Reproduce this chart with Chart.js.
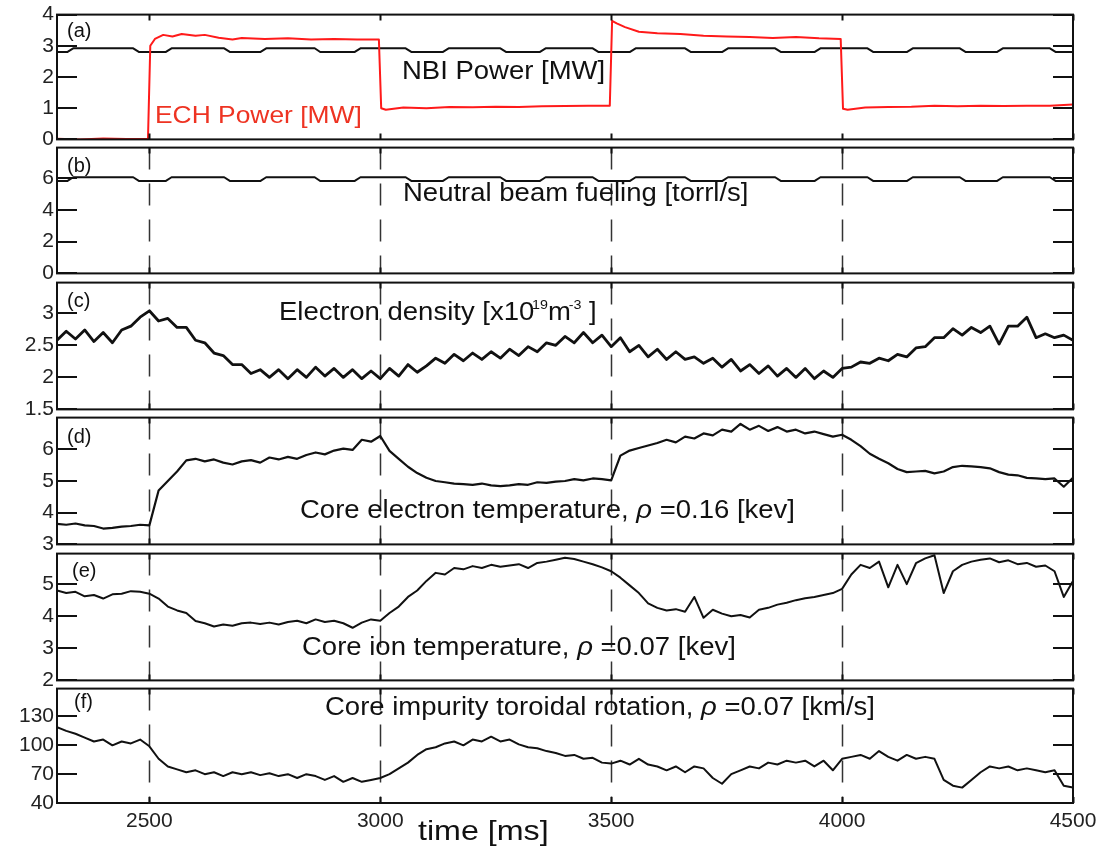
<!DOCTYPE html>
<html>
<head>
<meta charset="utf-8">
<script src="https://cdn.jsdelivr.net/npm/chart.js@4.4.1/dist/chart.umd.min.js"></script>
<style>
  body { margin: 0; background: #fff; }
  #wrap { position: relative; width: 1109px; height: 846px; overflow: hidden;
          font-family: 'Liberation Sans', Arial, Helvetica, sans-serif; color: #111; }
  canvas { position: absolute; left: 0; }
  .lbl { position: absolute; white-space: nowrap; line-height: 1; font-size: 25px;
         transform: scaleX(1.1); transform-origin: 0 0; }
  .tag { position: absolute; line-height: 1; font-size: 20px; }
  .lbl sup { font-size: 13px; vertical-align: 0; position: relative; top: -11px; margin-left: -2px; }
</style>
</head>
<body>
<div id="wrap">
  <div class="tag" style="left:67px;top:20px">(a)</div>
  <div class="tag" style="left:67px;top:155px">(b)</div>
  <div class="tag" style="left:67px;top:290px">(c)</div>
  <div class="tag" style="left:67px;top:426px">(d)</div>
  <div class="tag" style="left:72px;top:560px">(e)</div>
  <div class="tag" style="left:74px;top:691px">(f)</div>

  <div class="lbl" style="left:402px;top:58px">NBI Power [MW]</div>
  <div class="lbl" style="left:155px;top:103px;color:#ee3322;font-size:24px">ECH Power [MW]</div>
  <div class="lbl" style="left:403px;top:180px">Neutral beam fueling [torrl/s]</div>
  <div class="lbl" style="left:279px;top:299px">Electron density [x10<sup>19</sup>m<sup>-3</sup> ]</div>
  <div class="lbl" style="left:300px;top:497px">Core electron temperature, <i>&rho;</i> =0.16 [kev]</div>
  <div class="lbl" style="left:302px;top:634px">Core ion temperature, <i>&rho;</i> =0.07 [kev]</div>
  <div class="lbl" style="left:325px;top:694px">Core impurity toroidal rotation, <i>&rho;</i> =0.07 [km/s]</div>
  <div class="lbl" style="left:418px;top:817px;font-size:28px;transform:scaleX(1.15)">time [ms]</div>
</div>
<script>
// shared time base for the diagnostic traces (ms)
const timeMs = [
  2300, 2320, 2340, 2360, 2380, 2400, 2420, 2440, 2460, 2480,
  2500, 2520, 2540, 2560, 2580, 2600, 2620, 2640, 2660, 2680,
  2700, 2720, 2740, 2760, 2780, 2800, 2820, 2840, 2860, 2880,
  2900, 2920, 2940, 2960, 2980, 3000, 3020, 3040, 3060, 3080,
  3100, 3120, 3140, 3160, 3180, 3200, 3220, 3240, 3260, 3280,
  3300, 3320, 3340, 3360, 3380, 3400, 3420, 3440, 3460, 3480,
  3500, 3520, 3540, 3560, 3580, 3600, 3620, 3640, 3660, 3680,
  3700, 3720, 3740, 3760, 3780, 3800, 3820, 3840, 3860, 3880,
  3900, 3920, 3940, 3960, 3980, 4000, 4020, 4040, 4060, 4080,
  4100, 4120, 4140, 4160, 4180, 4200, 4220, 4240, 4260, 4280,
  4300, 4320, 4340, 4360, 4380, 4400, 4420, 4440, 4460, 4480,
  4500
];

// (a) ECH power, MW
const timeEch = [
  2300, 2350, 2400, 2450, 2497, 2502, 2512, 2530, 2550, 2570,
  2600, 2620, 2650, 2680, 2700, 2750, 2800, 2850, 2900, 2950,
  2997, 3002, 3012, 3050, 3100, 3150, 3200, 3250, 3300, 3350,
  3400, 3450, 3497, 3502, 3512, 3530, 3560, 3600, 3650, 3700,
  3750, 3800, 3850, 3900, 3950, 3997, 4002, 4012, 4050, 4100,
  4150, 4200, 4250, 4300, 4350, 4400, 4450, 4500
];
const echPower = [
  0.02, 0.00, 0.03, 0.01, 0.02, 3.00, 3.22, 3.35, 3.30, 3.38,
  3.32, 3.35, 3.26, 3.20, 3.25, 3.22, 3.24, 3.20, 3.22, 3.20,
  3.20, 1.00, 0.95, 1.02, 1.00, 1.04, 1.03, 1.05, 1.04, 1.06,
  1.07, 1.08, 1.08, 3.80, 3.72, 3.60, 3.45, 3.40, 3.38, 3.32,
  3.30, 3.28, 3.25, 3.28, 3.24, 3.22, 0.98, 0.95, 1.02, 1.04,
  1.05, 1.08, 1.06, 1.08, 1.07, 1.08, 1.08, 1.12
];

// (a) NBI power and (b) beam fueling share the beam modulation times
const timeBeam = [
  2300, 2322, 2335, 2465, 2478, 2535, 2548, 2662, 2675, 2740,
  2753, 2858, 2870, 2944, 2957, 3055, 3068, 3135, 3148, 3260,
  3273, 3345, 3358, 3460, 3473, 3540, 3553, 3660, 3673, 3740,
  3753, 3855, 3868, 3940, 3953, 4055, 4068, 4140, 4153, 4255,
  4268, 4335, 4348, 4450, 4463, 4500
];
const nbiPower = [
  2.80, 2.80, 2.92, 2.92, 2.80, 2.80, 2.92, 2.92, 2.80, 2.80,
  2.92, 2.92, 2.80, 2.80, 2.92, 2.92, 2.80, 2.80, 2.92, 2.92,
  2.80, 2.80, 2.92, 2.92, 2.80, 2.80, 2.92, 2.92, 2.80, 2.80,
  2.92, 2.92, 2.80, 2.80, 2.92, 2.92, 2.80, 2.80, 2.92, 2.92,
  2.80, 2.80, 2.92, 2.92, 2.80, 2.80
];
const beamFueling = [
  5.80, 5.80, 6.04, 6.04, 5.80, 5.80, 6.04, 6.04, 5.80, 5.80,
  6.04, 6.04, 5.80, 5.80, 6.04, 6.04, 5.80, 5.80, 6.04, 6.04,
  5.80, 5.80, 6.04, 6.04, 5.80, 5.80, 6.04, 6.04, 5.80, 5.80,
  6.04, 6.04, 5.80, 5.80, 6.04, 6.04, 5.80, 5.80, 6.04, 6.04,
  5.80, 5.80, 6.04, 6.04, 5.80, 5.80
];

// (c) electron density, 1e19 m^-3
const electronDensity = [
  2.58, 2.72, 2.60, 2.74, 2.56, 2.70, 2.54, 2.74, 2.80, 2.94,
  3.04, 2.88, 2.92, 2.78, 2.78, 2.58, 2.54, 2.38, 2.34, 2.20,
  2.20, 2.06, 2.12, 2.00, 2.12, 1.98, 2.12, 2.00, 2.16, 2.02,
  2.14, 2.00, 2.12, 1.98, 2.10, 1.98, 2.14, 2.02, 2.20, 2.08,
  2.18, 2.30, 2.22, 2.36, 2.26, 2.38, 2.28, 2.40, 2.30, 2.44,
  2.34, 2.48, 2.40, 2.54, 2.50, 2.64, 2.54, 2.70, 2.54, 2.66,
  2.48, 2.62, 2.40, 2.50, 2.32, 2.44, 2.28, 2.40, 2.28, 2.32,
  2.22, 2.30, 2.16, 2.28, 2.10, 2.20, 2.06, 2.18, 2.02, 2.14,
  2.00, 2.14, 1.98, 2.10, 2.00, 2.14, 2.16, 2.24, 2.22, 2.30,
  2.26, 2.36, 2.32, 2.46, 2.48, 2.62, 2.62, 2.76, 2.66, 2.78,
  2.70, 2.80, 2.52, 2.80, 2.80, 2.94, 2.62, 2.68, 2.62, 2.66,
  2.58
];

// (d) core electron temperature, keV
const electronTemp = [
  3.65, 3.62, 3.66, 3.60, 3.58, 3.50, 3.52, 3.56, 3.58, 3.62,
  3.60, 4.70, 5.00, 5.30, 5.65, 5.70, 5.62, 5.68, 5.58, 5.52,
  5.62, 5.66, 5.58, 5.74, 5.68, 5.76, 5.70, 5.82, 5.90, 5.84,
  5.96, 6.02, 5.98, 6.30, 6.24, 6.42, 5.95, 5.70, 5.45, 5.25,
  5.10, 5.00, 4.96, 4.92, 4.90, 4.88, 4.92, 4.86, 4.84, 4.86,
  4.90, 4.88, 4.96, 4.94, 4.98, 5.00, 5.06, 5.02, 5.08, 5.06,
  5.02, 5.80, 5.96, 6.04, 6.12, 6.20, 6.30, 6.22, 6.40, 6.34,
  6.50, 6.44, 6.62, 6.56, 6.80, 6.62, 6.74, 6.58, 6.70, 6.56,
  6.62, 6.50, 6.56, 6.48, 6.40, 6.46, 6.30, 6.10, 5.86, 5.70,
  5.56, 5.38, 5.28, 5.30, 5.32, 5.24, 5.30, 5.44, 5.48, 5.46,
  5.44, 5.40, 5.28, 5.20, 5.18, 5.10, 5.08, 5.06, 5.08, 4.82,
  5.10
];

// (e) core ion temperature, keV
const ionTemp = [
  4.80, 4.72, 4.76, 4.62, 4.66, 4.55, 4.68, 4.70, 4.78, 4.76,
  4.70, 4.55, 4.30, 4.18, 4.10, 3.85, 3.78, 3.68, 3.74, 3.70,
  3.78, 3.80, 3.76, 3.80, 3.74, 3.82, 3.86, 3.78, 3.90, 3.82,
  3.86, 3.78, 3.64, 3.80, 3.90, 3.86, 4.10, 4.30, 4.60, 4.80,
  5.10, 5.35, 5.30, 5.50, 5.46, 5.56, 5.50, 5.60, 5.54, 5.58,
  5.62, 5.50, 5.66, 5.70, 5.76, 5.82, 5.78, 5.70, 5.62, 5.52,
  5.40, 5.20, 4.96, 4.72, 4.40, 4.26, 4.18, 4.22, 4.14, 4.60,
  3.95, 4.20, 4.08, 4.00, 4.04, 3.96, 4.20, 4.26, 4.36, 4.42,
  4.50, 4.56, 4.60, 4.66, 4.72, 4.85, 5.30, 5.60, 5.50, 5.70,
  4.90, 5.60, 5.00, 5.65, 5.80, 5.90, 4.72, 5.40, 5.60, 5.70,
  5.76, 5.80, 5.68, 5.74, 5.62, 5.66, 5.54, 5.58, 5.40, 4.60,
  5.10
];

// (f) core impurity toroidal rotation, km/s
const toroidalRotation = [
  119, 115, 112, 108, 104, 106, 100, 104, 102, 106,
  99, 86, 78, 75, 72, 74, 70, 72, 68, 72,
  70, 72, 69, 71, 68, 70, 66, 70, 68, 64,
  68, 62, 66, 62, 64, 66, 70, 76, 82, 90,
  96, 98, 102, 104, 100, 106, 104, 109, 104, 106,
  101, 98, 97, 94, 92, 89, 90, 86, 87, 82,
  81, 84, 80, 86, 80, 78, 74, 78, 72, 78,
  76, 66, 60, 70, 74, 78, 76, 82, 80, 84,
  82, 84, 78, 84, 74, 86, 88, 90, 86, 94,
  88, 84, 90, 86, 88, 86, 64, 58, 56, 64,
  72, 78, 76, 78, 74, 76, 74, 72, 74, 58,
  56
];

const xTicks = [2500, 3000, 3500, 4000, 4500];
const dashedTimes = [2500, 3000, 3500, 4000];
const ticksA = [0, 1, 2, 3, 4];
const ticksB = [0, 2, 4, 6];
const ticksC = [1.5, 2, 2.5, 3];
const ticksD = [3, 4, 5, 6];
const ticksE = [2, 3, 4, 5];
const ticksF = [40, 70, 100, 130];

const TICK_FONT = { family: "'Liberation Sans', Arial, sans-serif", size: 21 };

function pts(xs, ys) {
    return xs.map((t, i) => ({ x: t, y: ys[i] }));
}

// box, inward ticks and the dashed time markers
const panelFrame = {
    id: 'panelFrame',
    beforeDatasetsDraw(chart, args, opts) {
        if (!opts.dashed) return;
        const { ctx, chartArea: a, scales: { x } } = chart;
        ctx.save();
        ctx.strokeStyle = '#333';
        ctx.lineWidth = 1.5;
        ctx.setLineDash([22, 14]);
        dashedTimes.forEach(t => {
            const px = Math.round(x.getPixelForValue(t)) + 0.5;
            ctx.beginPath();
            ctx.moveTo(px, a.top);
            ctx.lineTo(px, a.bottom);
            ctx.stroke();
        });
        ctx.restore();
    },
    afterDatasetsDraw(chart, args, opts) {
        const { ctx, chartArea: a, scales: { x, y } } = chart;
        ctx.save();
        ctx.strokeStyle = '#111';
        ctx.lineWidth = 2;
        ctx.strokeRect(a.left, a.top, a.width, a.height);
        ctx.beginPath();
        opts.yTicks.forEach(v => {
            const py = Math.round(y.getPixelForValue(v));
            ctx.moveTo(a.left, py); ctx.lineTo(a.left + 20, py);
            ctx.moveTo(a.right, py); ctx.lineTo(a.right - 20, py);
        });
        xTicks.forEach(t => {
            const px = Math.round(x.getPixelForValue(t)) + 0.5;
            ctx.moveTo(px, a.top); ctx.lineTo(px, a.top + 6);
            ctx.moveTo(px, a.bottom); ctx.lineTo(px, a.bottom - 6);
        });
        ctx.stroke();
        ctx.restore();
    }
};

const PANELS = [
    { top: 13, bottom: 141, min: 0, max: 4, yTicks: ticksA, dashed: false,
      series: [ { data: pts(timeEch, echPower), color: '#ff1a1a', width: 2 },
                { data: pts(timeBeam, nbiPower), color: '#111', width: 2 } ] },
    { top: 146, bottom: 275, min: 0, max: 7.9, yTicks: ticksB, dashed: true,
      series: [ { data: pts(timeBeam, beamFueling), color: '#111', width: 2 } ] },
    { top: 281, bottom: 411, min: 1.5, max: 3.48, yTicks: ticksC, dashed: true,
      series: [ { data: pts(timeMs, electronDensity), color: '#111', width: 2.8 } ] },
    { top: 416, bottom: 546, min: 3, max: 7, yTicks: ticksD, dashed: true,
      series: [ { data: pts(timeMs, electronTemp), color: '#111', width: 2.2 } ] },
    { top: 552, bottom: 682, min: 2, max: 5.95, yTicks: ticksE, dashed: true,
      series: [ { data: pts(timeMs, ionTemp), color: '#111', width: 2 } ] },
    { top: 687, bottom: 803, min: 40, max: 159, yTicks: ticksF, dashed: true, xLabels: true,
      series: [ { data: pts(timeMs, toroidalRotation), color: '#111', width: 2 } ] }
];

const wrap = document.getElementById('wrap');
const PAD = 14;
const X_AXIS_H = 34;

PANELS.forEach(p => {
    const h = p.bottom - p.top;
    const canvas = document.createElement('canvas');
    canvas.width = 1109;
    canvas.height = h + PAD + (p.xLabels ? X_AXIS_H : PAD);
    canvas.style.top = (p.top - PAD) + 'px';
    wrap.insertBefore(canvas, wrap.firstChild);

    new Chart(canvas.getContext('2d'), {
        type: 'line',
        data: {
            datasets: p.series.map(s => ({
                data: s.data,
                borderColor: s.color,
                borderWidth: s.width,
                pointRadius: 0,
                tension: 0,
                borderJoinStyle: 'round',
                fill: false
            }))
        },
        options: {
            responsive: false,
            animation: false,
            events: [],
            layout: { padding: { left: 0, right: 36, top: PAD, bottom: p.xLabels ? 0 : PAD } },
            plugins: {
                legend: { display: false },
                tooltip: { enabled: false },
                panelFrame: { dashed: p.dashed, yTicks: p.yTicks }
            },
            scales: {
                x: {
                    type: 'linear',
                    min: 2300,
                    max: 4500,
                    display: !!p.xLabels,
                    grid: { display: false, drawTicks: false },
                    border: { display: false },
                    afterBuildTicks: s => { s.ticks = xTicks.map(v => ({ value: v })); },
                    afterFit: s => { s.height = p.xLabels ? X_AXIS_H : 0; },
                    ticks: {
                        font: TICK_FONT, color: '#222', padding: 6,
                        maxRotation: 0, autoSkip: false,
                        callback: v => String(v)
                    }
                },
                y: {
                    type: 'linear',
                    min: p.min,
                    max: p.max,
                    grid: { display: false, drawTicks: false },
                    border: { display: false },
                    afterBuildTicks: s => { s.ticks = p.yTicks.map(v => ({ value: v })); },
                    afterFit: s => { s.width = 57; },
                    ticks: { font: TICK_FONT, color: '#222', padding: 3, autoSkip: false,
                             callback: v => String(v) }
                }
            }
        },
        plugins: [panelFrame]
    });
});
</script>
</body>
</html>
